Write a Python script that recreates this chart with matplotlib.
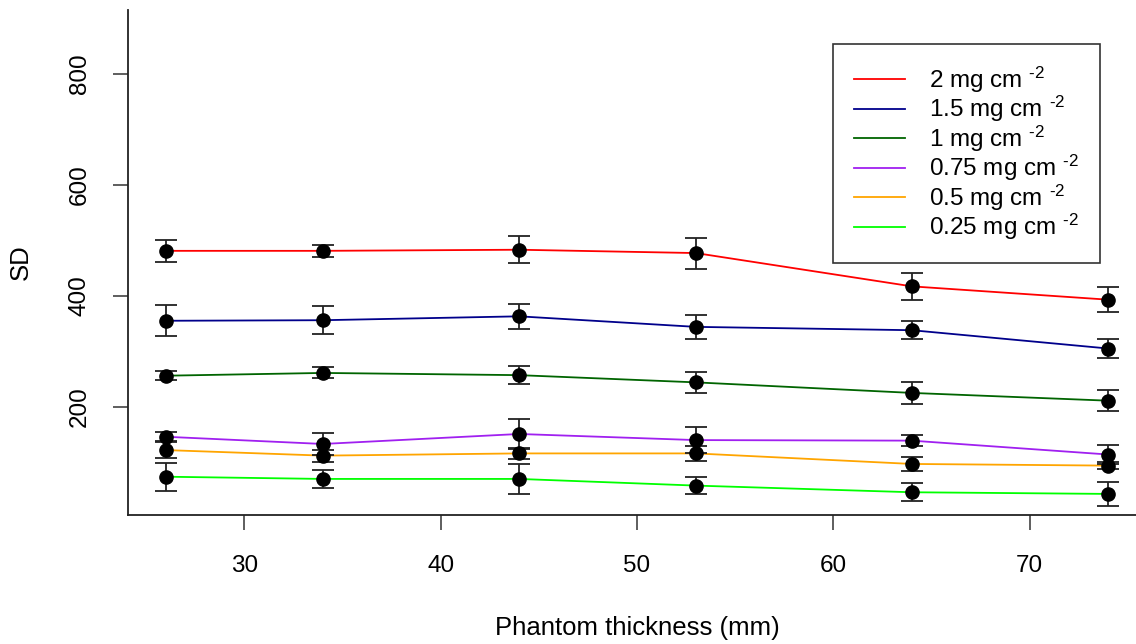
import matplotlib
matplotlib.use("Agg")
import matplotlib.pyplot as plt
import numpy as np

plt.rcParams['font.family'] = ['Liberation Sans', 'DejaVu Sans']
plt.rcParams['mathtext.default'] = 'regular'

thickness = [26, 34, 44, 53, 64, 74]
labels = ["2", "1.5", "1", "0.75", "0.5", "0.25"]
colors = ["#FF0000", "#00008B", "#006400", "#A020F0", "#FFA500", "#00FF00"]

sd = [
    [481, 481, 483, 477, 417, 393],
    [355, 356, 363, 344, 338, 305],
    [256, 261, 257, 244, 225, 211],
    [146, 133, 151, 140, 139, 114],
    [122, 112, 116, 116, 97, 94],
    [74, 70, 70, 58, 46, 43],
]
err = [
    [20, 11, 24, 28, 24, 22],
    [28, 25, 22, 22, 16, 17],
    [8, 10, 16, 19, 20, 19],
    [8, 19, 27, 23, 10, 17],
    [14, 11, 10, 13, 12, 7],
    [25, 16, 27, 15, 16, 21],
]

fig = plt.figure(figsize=(11.36, 6.44), dpi=100)
ax = fig.add_axes([0.1127, 0.2003, 0.896, 0.7842])

for lab, col, y, e in zip(labels, colors, sd, err):
    ax.plot(thickness, y, color=col, lw=1.3, label=lab + " mg cm $^{\u2010 2}$", zorder=2)
    ax.errorbar(thickness, y, yerr=e, fmt='o', color='black', ms=9.5,
                ecolor='#222222', elinewidth=1.3, capsize=8, capthick=1.3, zorder=3)

ax.set_xlim(24.08, 75.92)
ax.set_ylim(5, 915)
ax.set_xticks([30, 40, 50, 60, 70])
ax.set_yticks([200, 400, 600, 800])
ax.spines['top'].set_visible(False)
ax.spines['right'].set_visible(False)
for s in ['left', 'bottom']:
    ax.spines[s].set_linewidth(1.3)
    ax.spines[s].set_color('#222222')
ax.tick_params(length=11, width=1.1, color='#333333', labelsize=17.5, pad=18)
ax.tick_params(axis='y', pad=16)
for t in ax.get_yticklabels():
    t.set_rotation(90)
    t.set_va('center')

ax.set_xlabel("Phantom thickness (mm)", fontsize=18.5, labelpad=28)
ax.set_ylabel("SD", fontsize=18.5, labelpad=26)

leg = ax.legend(loc='upper left', bbox_to_anchor=(0.6926, 0.9327), fontsize=17.5,
                frameon=True, fancybox=False, edgecolor='black', handlelength=2.1,
                handletextpad=1.0, labelspacing=-0.03, borderpad=0.85, borderaxespad=0)
leg.get_frame().set_linewidth(1.2)

plt.savefig("out.png", dpi=100)
